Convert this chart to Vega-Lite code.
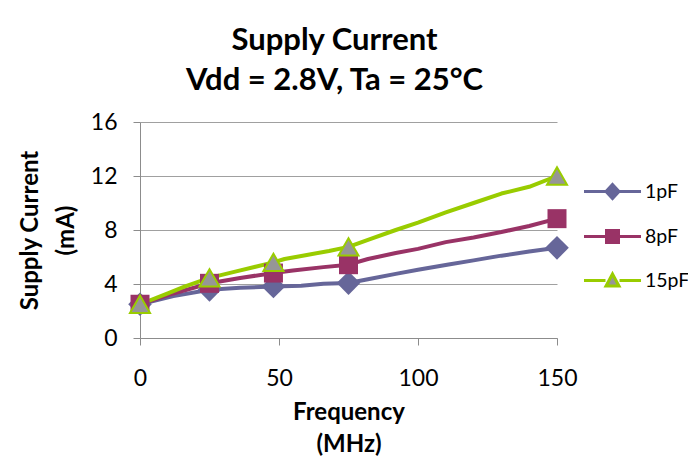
{
  "$schema": "https://vega.github.io/schema/vega-lite/v6.json",
  "width": 417,
  "height": 216,
  "autosize": {"type": "none"},
  "padding": {"left": 140, "top": 122, "right": 131, "bottom": 128},
  "background": "white",
  "config": {"view": {"stroke": null}, "font": "Lato"},
  "title": {
    "text": ["Supply Current", "Vdd = 2.8V, Ta = 25°C"],
    "font": "Lato",
    "fontSize": 31,
    "fontWeight": "bold",
    "lineHeight": 40,
    "color": "black",
    "anchor": "middle",
    "dx": -14,
    "offset": 14
  },
  "datasets": {
    "lines": [
      {"series": "1pF", "freq": 0, "current": 2.5},
      {"series": "1pF", "freq": 12, "current": 3.1},
      {"series": "1pF", "freq": 25, "current": 3.57},
      {"series": "1pF", "freq": 36, "current": 3.72},
      {"series": "1pF", "freq": 48, "current": 3.82},
      {"series": "1pF", "freq": 58, "current": 3.87},
      {"series": "1pF", "freq": 66, "current": 4.02},
      {"series": "1pF", "freq": 75, "current": 4.07},
      {"series": "1pF", "freq": 82, "current": 4.35},
      {"series": "1pF", "freq": 92, "current": 4.75},
      {"series": "1pF", "freq": 100, "current": 5.05},
      {"series": "1pF", "freq": 111, "current": 5.45},
      {"series": "1pF", "freq": 120, "current": 5.75},
      {"series": "1pF", "freq": 130, "current": 6.1},
      {"series": "1pF", "freq": 140, "current": 6.4},
      {"series": "1pF", "freq": 150, "current": 6.68},
      {"series": "8pF", "freq": 0, "current": 2.5},
      {"series": "8pF", "freq": 12, "current": 3.3},
      {"series": "8pF", "freq": 25, "current": 4.05},
      {"series": "8pF", "freq": 36, "current": 4.45},
      {"series": "8pF", "freq": 48, "current": 4.81},
      {"series": "8pF", "freq": 55, "current": 5.0},
      {"series": "8pF", "freq": 66, "current": 5.25},
      {"series": "8pF", "freq": 75, "current": 5.43},
      {"series": "8pF", "freq": 82, "current": 5.85},
      {"series": "8pF", "freq": 92, "current": 6.3},
      {"series": "8pF", "freq": 100, "current": 6.6},
      {"series": "8pF", "freq": 110, "current": 7.1},
      {"series": "8pF", "freq": 120, "current": 7.45},
      {"series": "8pF", "freq": 130, "current": 7.85},
      {"series": "8pF", "freq": 140, "current": 8.3},
      {"series": "8pF", "freq": 150, "current": 8.84},
      {"series": "15pF", "freq": 0, "current": 2.5},
      {"series": "15pF", "freq": 10, "current": 3.3},
      {"series": "15pF", "freq": 16, "current": 3.8},
      {"series": "15pF", "freq": 25, "current": 4.45},
      {"series": "15pF", "freq": 35, "current": 4.95},
      {"series": "15pF", "freq": 48, "current": 5.6},
      {"series": "15pF", "freq": 52, "current": 5.85},
      {"series": "15pF", "freq": 60, "current": 6.15},
      {"series": "15pF", "freq": 68, "current": 6.45},
      {"series": "15pF", "freq": 75, "current": 6.75},
      {"series": "15pF", "freq": 83, "current": 7.35},
      {"series": "15pF", "freq": 92, "current": 8.0},
      {"series": "15pF", "freq": 100, "current": 8.55},
      {"series": "15pF", "freq": 110, "current": 9.3},
      {"series": "15pF", "freq": 120, "current": 10.0},
      {"series": "15pF", "freq": 130, "current": 10.7},
      {"series": "15pF", "freq": 140, "current": 11.2},
      {"series": "15pF", "freq": 150, "current": 12.0}
    ],
    "markers": [
      {"series": "1pF", "freq": 0, "current": 2.5},
      {"series": "1pF", "freq": 25, "current": 3.57},
      {"series": "1pF", "freq": 48, "current": 3.82},
      {"series": "1pF", "freq": 75, "current": 4.07},
      {"series": "1pF", "freq": 150, "current": 6.68},
      {"series": "8pF", "freq": 0, "current": 2.5},
      {"series": "8pF", "freq": 25, "current": 4.05},
      {"series": "8pF", "freq": 48, "current": 4.81},
      {"series": "8pF", "freq": 75, "current": 5.43},
      {"series": "8pF", "freq": 150, "current": 8.84},
      {"series": "15pF", "freq": 0, "current": 2.5},
      {"series": "15pF", "freq": 25, "current": 4.45},
      {"series": "15pF", "freq": 48, "current": 5.6},
      {"series": "15pF", "freq": 75, "current": 6.75},
      {"series": "15pF", "freq": 150, "current": 12.0}
    ]
  },
  "layer": [
    {
      "data": {"name": "markers"},
      "mark": {"type": "point", "strokeWidth": 3, "opacity": 1, "size": 0},
      "encoding": {
        "x": {
          "field": "freq", "type": "quantitative",
          "scale": {"domain": [0, 150], "nice": false},
          "axis": {
            "title": ["Frequency", "(MHz)"],
            "values": [0, 50, 100, 150],
            "grid": false,
            "tickSize": 7,
            "domainColor": "#8C8C8C",
            "tickColor": "#8C8C8C",
            "labelFont": "Lato",
            "labelFontSize": 23,
            "labelColor": "black",
            "labelPadding": 22,
            "labelFlush": false,
            "titleFont": "Lato",
            "titleFontSize": 24,
            "titleFontWeight": "bold",
            "titleColor": "black",
            "titleLineHeight": 32,
            "titlePadding": 10
          }
        },
        "y": {
          "field": "current", "type": "quantitative",
          "scale": {"domain": [0, 16], "nice": false},
          "axis": {
            "title": ["Supply Current", "(mA)"],
            "values": [0, 4, 8, 12, 16],
            "grid": true,
            "gridColor": "#A0A0A0",
            "tickSize": 7,
            "domainColor": "#8C8C8C",
            "tickColor": "#8C8C8C",
            "labelFont": "Lato",
            "labelFontSize": 23,
            "labelColor": "black",
            "labelPadding": 16,
            "titleFont": "Lato",
            "titleFontSize": 24,
            "titleFontWeight": "bold",
            "titleColor": "black",
            "titleLineHeight": 36,
            "titlePadding": 12
          }
        },
        "shape": {
          "field": "series", "type": "nominal",
          "scale": {
            "domain": ["1pF", "8pF", "15pF"],
            "range": [
              "M-2.85,0L2.85,0M0,-0.7L0.65,0L0,0.7L-0.65,0Z",
              "M-2.85,0L2.85,0M-0.6,-0.6L0.6,-0.6L0.6,0.6L-0.6,0.6Z",
              "M-2.85,0L-0.7,0M0.7,0L2.85,0M0,-0.65L0.65,0.55L-0.65,0.55Z"
            ]
          },
          "legend": {"orient": "right", "offset": -16.5, "padding": 58, "title": null, "symbolSize": 400, "symbolStrokeWidth": 3, "labelFont": "Lato", "labelFontSize": 19.5, "labelColor": "black", "labelOffset": 21, "rowPadding": 19}
        },
        "stroke": {
          "field": "series", "type": "nominal",
          "scale": {"domain": ["1pF", "8pF", "15pF"], "range": ["#666699", "#993366", "#99CC00"]},
          "legend": {"orient": "right", "offset": -16.5, "padding": 58, "title": null, "symbolSize": 400, "symbolStrokeWidth": 3, "labelFont": "Lato", "labelFontSize": 19.5, "labelColor": "black", "labelOffset": 21, "rowPadding": 19}
        },
        "fill": {
          "field": "series", "type": "nominal",
          "scale": {"domain": ["1pF", "8pF", "15pF"], "range": ["#666699", "#993366", "#969696"]},
          "legend": {"orient": "right", "offset": -16.5, "padding": 58, "title": null, "symbolSize": 400, "symbolStrokeWidth": 3, "labelFont": "Lato", "labelFontSize": 19.5, "labelColor": "black", "labelOffset": 21, "rowPadding": 19}
        }
      }
    },
    {
      "data": {"name": "lines"},
      "mark": {"type": "line", "strokeWidth": 4, "strokeJoin": "round", "strokeCap": "round"},
      "encoding": {
        "x": {"field": "freq", "type": "quantitative"},
        "y": {"field": "current", "type": "quantitative"},
        "color": {
          "field": "series", "type": "nominal",
          "scale": {"domain": ["1pF", "8pF", "15pF"], "range": ["#666699", "#993366", "#99CC00"]},
          "legend": null
        }
      }
    },
    {
      "data": {"name": "markers"},
      "transform": [{"filter": "datum.series == '1pF'"}],
      "mark": {"type": "point", "shape": "diamond", "filled": true, "color": "#666699", "size": 560, "opacity": 1},
      "encoding": {
        "x": {"field": "freq", "type": "quantitative"},
        "y": {"field": "current", "type": "quantitative"}
      }
    },
    {
      "data": {"name": "markers"},
      "transform": [{"filter": "datum.series == '8pF'"}],
      "mark": {"type": "point", "shape": "square", "filled": true, "color": "#993366", "size": 361, "opacity": 1},
      "encoding": {
        "x": {"field": "freq", "type": "quantitative"},
        "y": {"field": "current", "type": "quantitative"}
      }
    },
    {
      "data": {"name": "markers"},
      "transform": [{"filter": "datum.series == '15pF'"}],
      "mark": {"type": "point", "shape": "triangle-up", "fill": "#969696", "stroke": "#99CC00", "strokeWidth": 2, "size": 400, "opacity": 1, "fillOpacity": 1},
      "encoding": {
        "x": {"field": "freq", "type": "quantitative"},
        "y": {"field": "current", "type": "quantitative"}
      }
    }
  ]
}
